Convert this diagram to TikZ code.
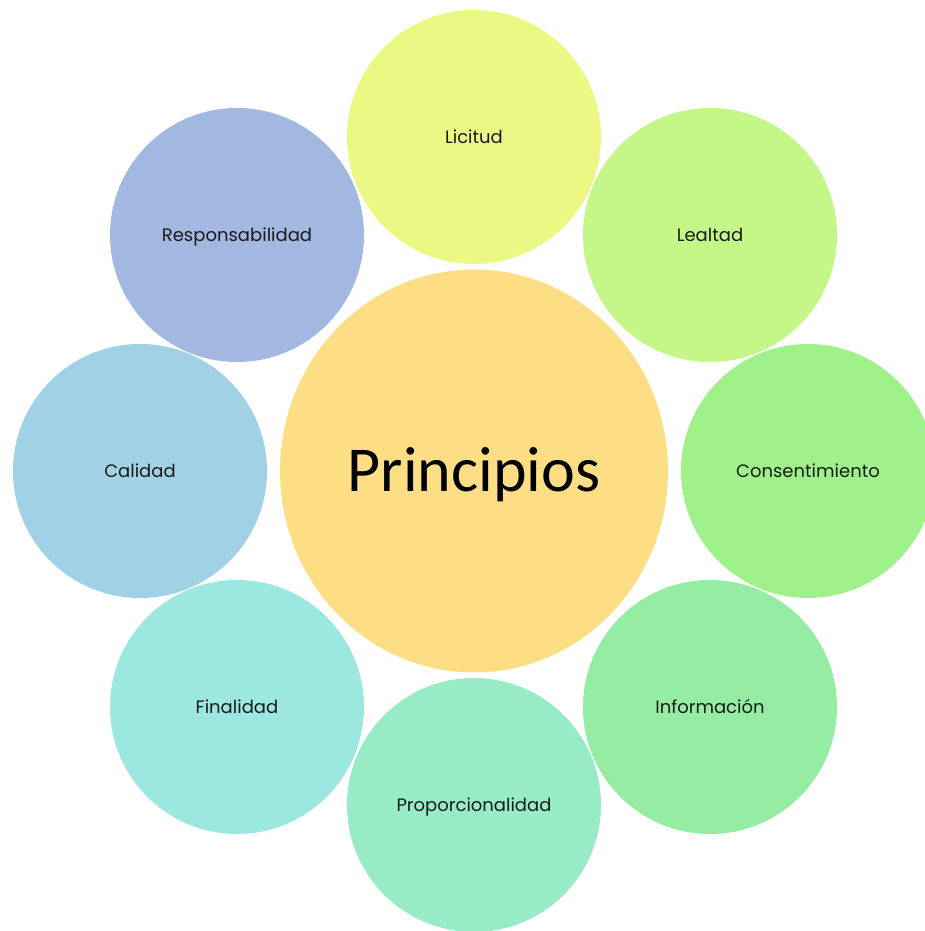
\documentclass[tikz,border=0pt]{standalone}
\usepackage{fontspec}
\usetikzlibrary{shapes.geometric}
\setmainfont{Poppins}
\newfontfamily\calib{Carlito}
\definecolor{cCenter}{HTML}{FDDE85}
\definecolor{cLic}{HTML}{EBF984}
\definecolor{cLea}{HTML}{C4F788}
\definecolor{cCon}{HTML}{9FF28A}
\definecolor{cInf}{HTML}{94EDA3}
\definecolor{cPro}{HTML}{97EBC6}
\definecolor{cFin}{HTML}{9CE7E0}
\definecolor{cCal}{HTML}{A0D1E4}
\definecolor{cRes}{HTML}{A2B8E0}
\definecolor{txt}{HTML}{1A1A1A}
\begin{document}
\begin{tikzpicture}[x=1pt,y=1pt,
  petal/.style={circle,minimum size=254pt,inner sep=0pt,text=txt,font=\fontsize{18}{22}\selectfont,text depth=0pt,text height=13pt}]
\useasboundingbox (0,0) rectangle (925,931);
\node[ellipse,minimum width=388pt,minimum height=403pt,inner sep=0pt,fill=cCenter] (c) at (474,460) {};
\node[font=\calib\fontsize{64}{70}\selectfont] (ct) at ([yshift=-4pt]c.center) {Principios};
\node[petal,fill=cLic] (lic) at (474,794) {Licitud};
\node[petal,fill=cLea] (lea) at (710,696) {Lealtad};
\node[petal,fill=cCon] (con) at (808,460) {Consentimiento};
\node[petal,fill=cInf] (inf) at (710,224) {Información};
\node[petal,fill=cPro] (pro) at (474,126) {Proporcionalidad};
\node[petal,fill=cFin] (fin) at (237,224) {Finalidad};
\node[petal,fill=cCal] (cal) at (140,460) {Calidad};
\node[petal,fill=cRes] (res) at (237,696) {Responsabilidad};
\end{tikzpicture}
\end{document}
